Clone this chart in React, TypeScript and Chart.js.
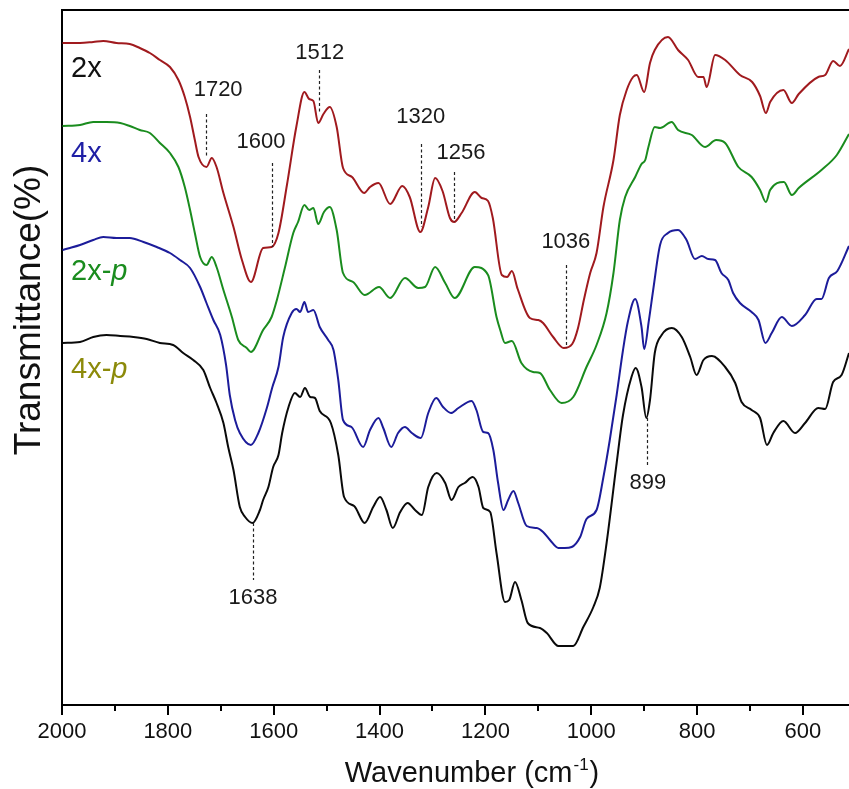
import { useEffect, useRef } from 'react';
import { Chart, registerables } from 'chart.js';

Chart.register(...registerables);

const FONT = '"Liberation Sans", Arial, Helvetica, sans-serif';

// [wavenumber (cm-1), transmittance (a.u., offset traces)]
const spectrum2x: [number, number][] = [
  [1999, 662], [1966, 662], [1941, 663], [1922, 664], [1897, 662], [1872, 661], [1853, 657], [1834, 652],
  [1815, 645], [1796, 638], [1780, 625], [1768, 608], [1758, 588], [1749, 565], [1742, 548], [1727, 538],
  [1717, 547], [1708, 538], [1695, 512], [1676, 478], [1660, 445], [1643, 423], [1620, 457], [1604, 458],
  [1591, 472], [1575, 520], [1557, 579], [1542, 613], [1533, 606], [1525, 604], [1516, 582], [1506, 591],
  [1494, 598], [1481, 578], [1469, 537], [1452, 528], [1429, 512], [1418, 518], [1402, 522], [1380, 501],
  [1357, 519], [1343, 508], [1323, 473], [1308, 498], [1295, 527], [1281, 514], [1267, 487], [1259, 483],
  [1245, 492], [1220, 513], [1207, 507], [1195, 504], [1186, 487], [1169, 430], [1159, 428], [1150, 434],
  [1139, 416], [1116, 387], [1100, 385], [1091, 382], [1072, 368], [1052, 357], [1036, 361], [1025, 377],
  [1014, 405], [1002, 432], [990, 452], [977, 498], [958, 545], [946, 590], [933, 615], [921, 628],
  [914, 630], [900, 613], [889, 642], [880, 655], [855, 668], [836, 655], [817, 645], [798, 628],
  [788, 628], [782, 618], [766, 650], [747, 645], [719, 630], [696, 623], [681, 609], [670, 592],
  [662, 603], [637, 615], [621, 602], [608, 611], [571, 628], [558, 630], [543, 644], [530, 639], [513, 656],
];

const spectrum4x: [number, number][] = [
  [1999, 579], [1966, 580], [1941, 583], [1916, 583], [1890, 582], [1872, 579], [1853, 575], [1834, 572],
  [1815, 562], [1796, 552], [1780, 538], [1768, 518], [1758, 495], [1749, 472], [1739, 448], [1727, 440],
  [1717, 448], [1708, 438], [1695, 415], [1679, 388], [1667, 365], [1651, 357], [1643, 353], [1620, 375],
  [1604, 388], [1594, 405], [1579, 437], [1563, 472], [1554, 483], [1542, 500], [1533, 495], [1525, 497],
  [1516, 481], [1505, 493], [1494, 498], [1481, 475], [1469, 432], [1450, 423], [1428, 410], [1401, 418],
  [1380, 407], [1352, 427], [1327, 417], [1314, 418], [1295, 438], [1276, 422], [1258, 407], [1220, 438],
  [1195, 430], [1179, 388], [1172, 375], [1163, 362], [1150, 364], [1132, 342], [1110, 333], [1097, 332],
  [1078, 315], [1056, 302], [1034, 308], [1009, 338], [990, 360], [971, 392], [958, 432], [946, 485],
  [936, 508], [917, 528], [905, 541], [898, 545], [892, 558], [880, 578], [870, 577], [848, 583],
  [836, 575], [810, 570], [785, 558], [764, 565], [747, 562], [722, 538], [697, 528], [681, 515],
  [670, 503], [662, 515], [636, 523], [621, 510], [608, 517], [565, 535], [536, 550], [513, 571],
];

const spectrum2xp: [number, number][] = [
  [1999, 455], [1985, 457], [1966, 460], [1941, 465], [1922, 468], [1897, 467], [1872, 467], [1846, 463],
  [1821, 458], [1796, 452], [1777, 445], [1758, 437], [1739, 418], [1727, 402], [1714, 385], [1701, 370],
  [1690, 340], [1683, 310], [1673, 285], [1664, 272], [1643, 260], [1629, 272], [1613, 297], [1603, 317],
  [1591, 338], [1582, 368], [1566, 392], [1557, 396], [1550, 393], [1542, 403], [1535, 393], [1525, 395],
  [1513, 378], [1497, 365], [1487, 355], [1478, 325], [1469, 285], [1453, 278], [1431, 258], [1418, 275],
  [1402, 287], [1393, 277], [1378, 258], [1365, 272], [1352, 278], [1339, 272], [1322, 267], [1308, 292],
  [1293, 307], [1280, 298], [1265, 292], [1251, 297], [1226, 304], [1217, 295], [1204, 273], [1195, 272],
  [1185, 255], [1176, 222], [1166, 195], [1157, 205], [1147, 214], [1138, 202], [1122, 179], [1103, 177],
  [1091, 173], [1078, 165], [1062, 157], [1050, 157], [1037, 158], [1021, 168], [1009, 186], [990, 195],
  [977, 228], [965, 265], [952, 310], [940, 355], [931, 383], [917, 406], [905, 378], [900, 356],
  [891, 385], [883, 415], [870, 460], [855, 472], [836, 475], [820, 465], [804, 446], [791, 449],
  [779, 446], [766, 445], [754, 432], [741, 425], [732, 412], [719, 402], [697, 393], [684, 385],
  [671, 362], [659, 372], [640, 388], [621, 379], [596, 390], [574, 406], [565, 406], [551, 427],
  [535, 434], [513, 459],
];

const spectrum4xp: [number, number][] = [
  [1999, 362], [1966, 363], [1941, 368], [1916, 370], [1890, 369], [1865, 368], [1840, 366], [1815, 362],
  [1790, 360], [1771, 352], [1752, 345], [1733, 335], [1720, 317], [1708, 302], [1695, 282], [1686, 258],
  [1676, 235], [1664, 198], [1654, 188], [1640, 182], [1626, 195], [1620, 205], [1610, 218], [1601, 238],
  [1591, 250], [1584, 272], [1572, 298], [1560, 312], [1550, 308], [1541, 317], [1531, 308], [1522, 307],
  [1513, 294], [1492, 282], [1478, 250], [1467, 208], [1448, 199], [1428, 182], [1412, 198], [1399, 208],
  [1387, 195], [1375, 177], [1361, 193], [1347, 202], [1333, 195], [1320, 190], [1308, 218], [1292, 232],
  [1276, 222], [1264, 205], [1251, 218], [1239, 222], [1224, 228], [1213, 218], [1204, 197], [1191, 193],
  [1179, 152], [1163, 103], [1155, 105], [1144, 123], [1132, 105], [1120, 82], [1097, 77], [1084, 72],
  [1062, 59], [1034, 59], [1015, 78], [996, 98], [984, 117], [971, 162], [952, 242], [940, 290],
  [924, 328], [916, 337], [905, 318], [896, 287], [889, 305], [880, 352], [867, 370], [848, 377],
  [829, 368], [813, 348], [801, 330], [788, 345], [772, 349], [747, 338], [728, 322], [716, 303],
  [697, 295], [681, 287], [668, 260], [656, 272], [637, 284], [615, 272], [596, 282], [571, 297],
  [558, 296], [543, 323], [527, 330], [513, 352],
];

const seriesNames = ['2x', '4x', '2x-p', '4x-p'];
const seriesColors = ['#a01a1e', '#1a8c1e', '#1c1c9a', '#0a0a0a'];

// peak annotations: label, dashed line x, dashed line y range, label centre
const peakLabels = ['1720', '1600', '1512', '1320', '1256', '1036', '899', '1638'];
const peakLineX = [1728, 1604, 1514, 1322, 1259, 1048, 895, 1639];
const peakLineY = [[548, 591], [458, 542], [593, 635], [478, 561], [483, 533], [357, 440], [240, 287], [125, 182]];
const peakLabelAt = [[1705, 615], [1624, 563], [1513, 652], [1322, 588], [1246, 552], [1048, 463], [893, 222], [1639, 107]];

// in-plot sample labels: normal part, italic part, colour, position
const sampleLabels = [
  { text: '2x', ital: '', color: '#111111', at: [1983, 628] },
  { text: '4x', ital: '', color: '#1f1fa5', at: [1983, 543] },
  { text: '2x-', ital: 'p', color: '#1a8c1e', at: [1983, 425] },
  { text: '4x-', ital: 'p', color: '#8c8a0a', at: [1983, 327] },
];

const overlay = {
  id: 'overlay',
  afterDraw(chart: any) {
    const { ctx, chartArea: a } = chart;
    const xs = chart.scales.x;
    const ys = chart.scales.y;
    ctx.save();
    ctx.strokeStyle = '#000';
    ctx.lineWidth = 2;
    ctx.beginPath();
    ctx.moveTo(a.left - 1, a.top);
    ctx.lineTo(a.right, a.top);
    ctx.stroke();
    // tick marks (major every 200, minor every 100)
    xs.ticks.forEach((t: any) => {
      const px = Math.round(xs.getPixelForValue(t.value));
      const len = t.value % 200 === 0 ? 10 : 6;
      ctx.beginPath();
      ctx.moveTo(px, a.bottom);
      ctx.lineTo(px, a.bottom + len);
      ctx.stroke();
    });
    // peak markers
    ctx.strokeStyle = '#222';
    ctx.lineWidth = 1.2;
    ctx.setLineDash([3, 2.5]);
    peakLabels.forEach((lab, i) => {
      const px = Math.round(xs.getPixelForValue(peakLineX[i])) + 0.5;
      ctx.beginPath();
      ctx.moveTo(px, ys.getPixelForValue(peakLineY[i][1]));
      ctx.lineTo(px, ys.getPixelForValue(peakLineY[i][0]));
      ctx.stroke();
    });
    ctx.setLineDash([]);
    ctx.fillStyle = '#1a1a1a';
    ctx.font = `22px ${FONT}`;
    ctx.textAlign = 'center';
    ctx.textBaseline = 'middle';
    peakLabels.forEach((lab, i) => {
      ctx.fillText(lab, xs.getPixelForValue(peakLabelAt[i][0]), ys.getPixelForValue(peakLabelAt[i][1]));
    });
    // sample labels
    ctx.textAlign = 'left';
    ctx.textBaseline = 'alphabetic';
    sampleLabels.forEach((s) => {
      const px = xs.getPixelForValue(s.at[0]);
      const py = ys.getPixelForValue(s.at[1]);
      ctx.fillStyle = s.color;
      ctx.font = `29px ${FONT}`;
      ctx.fillText(s.text, px, py);
      if (s.ital) {
        const w = ctx.measureText(s.text).width;
        ctx.font = `italic 29px ${FONT}`;
        ctx.fillText(s.ital, px + w, py);
      }
    });
    // axis titles
    ctx.fillStyle = '#111';
    const main = 'Wavenumber (cm';
    const sup = '-1';
    const close = ')';
    ctx.font = `29px ${FONT}`;
    const w1 = ctx.measureText(main).width;
    const w3 = ctx.measureText(close).width;
    ctx.font = `17px ${FONT}`;
    const w2 = ctx.measureText(sup).width;
    let sx = 472 - (w1 + w2 + w3 + 2) / 2;
    const base = 782;
    ctx.font = `29px ${FONT}`;
    ctx.fillText(main, sx, base);
    sx += w1 + 1;
    ctx.font = `17px ${FONT}`;
    ctx.fillText(sup, sx, base - 12);
    sx += w2 + 1;
    ctx.font = `29px ${FONT}`;
    ctx.fillText(close, sx, base);

    ctx.translate(40, 310);
    ctx.rotate(-Math.PI / 2);
    ctx.textAlign = 'center';
    ctx.font = `37px ${FONT}`;
    ctx.fillText('Transmittance(%)', 0, 0);
    ctx.restore();
  },
};

export default function App() {
  const ref = useRef<HTMLCanvasElement>(null);
  useEffect(() => {
    if (!ref.current) return;
    const all = [spectrum2x, spectrum4x, spectrum2xp, spectrum4xp];
    const chart = new Chart(ref.current, {
      type: 'line',
      data: {
        datasets: all.map((s, i) => ({
          label: seriesNames[i],
          data: s.map(([x, y]) => ({ x, y })),
          borderColor: seriesColors[i],
          borderWidth: 2,
          pointRadius: 0,
          fill: false,
          cubicInterpolationMode: 'monotone' as const,
        })),
      },
      options: {
        responsive: false,
        animation: false,
        layout: { padding: { top: 10, left: 0, right: 0, bottom: 0 } },
        plugins: { legend: { display: false }, tooltip: { enabled: false } },
        scales: {
          x: {
            type: 'linear',
            min: 513,
            max: 2000,
            reverse: true,
            grid: { display: false, drawTicks: false },
            border: { display: true, color: '#000', width: 2 },
            ticks: {
              stepSize: 100,
              includeBounds: false,
              autoSkip: false,
              maxRotation: 0,
              padding: 14,
              color: '#111',
              font: { family: FONT, size: 22 },
              callback: (v: any) => (Number(v) % 200 === 0 ? String(v) : ''),
            },
            afterFit: (s: any) => {
              s.height = 84;
            },
          },
          y: {
            min: 0,
            max: 695,
            ticks: { display: false },
            grid: { display: false, drawTicks: false },
            border: { display: true, color: '#000', width: 2 },
            afterFit: (s: any) => {
              s.width = 62;
            },
          },
        },
      },
      plugins: [overlay],
    });
    return () => chart.destroy();
  }, []);
  return (
    <div style={{ position: 'absolute', left: 0, top: 0, width: 849, height: 789, background: '#fff' }}>
      <canvas ref={ref} width={849} height={789} style={{ display: 'block' }} />
    </div>
  );
}
